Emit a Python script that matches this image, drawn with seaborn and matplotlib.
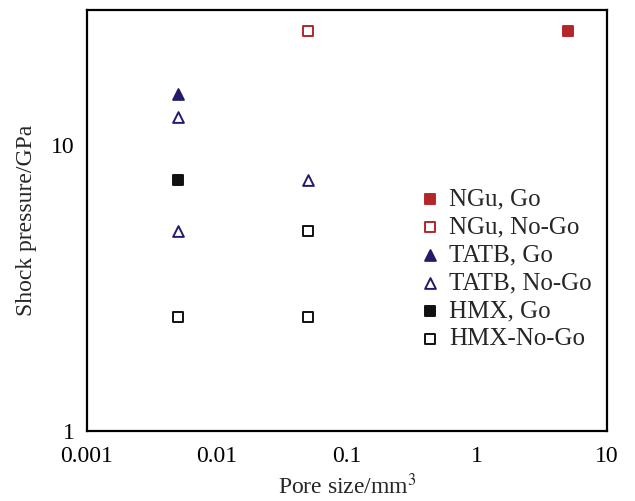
import matplotlib
matplotlib.use("Agg")
import matplotlib.pyplot as plt
import seaborn as sns
import pandas as pd
from matplotlib.ticker import FixedLocator, FixedFormatter, NullLocator

sns.set_style("white")
plt.rcParams["font.family"] = ["Liberation Serif", "DejaVu Serif"]
plt.rcParams["mathtext.fontset"] = "stix"

# Data: pore size (mm^3) vs shock pressure (GPa)
ngu_go_x = [5.0]
ngu_go_y = [25.0]
ngu_nogo_x = [0.05]
ngu_nogo_y = [25.0]
tatb_go_x = [0.005]
tatb_go_y = [15.0]
tatb_nogo_x = [0.005, 0.05, 0.005]
tatb_nogo_y = [12.5, 7.5, 5.0]
hmx_go_x = [0.005]
hmx_go_y = [7.5]
hmx_nogo_x = [0.05, 0.005, 0.05]
hmx_nogo_y = [5.0, 2.5, 2.5]

x_ticks = [0.001, 0.01, 0.1, 1, 10]
x_tick_labels = ["0.001", "0.01", "0.1", "1", "10"]
y_ticks = [1, 10]
y_tick_labels = ["1", "10"]

red = "#b5262b"
navy = "#221b6b"
black = "#111111"

series = [
    ("NGu, Go", ngu_go_x, ngu_go_y, "s", red, True),
    ("NGu, No-Go", ngu_nogo_x, ngu_nogo_y, "s", red, False),
    ("TATB, Go", tatb_go_x, tatb_go_y, "^", navy, True),
    ("TATB, No-Go", tatb_nogo_x, tatb_nogo_y, "^", navy, False),
    ("HMX, Go", hmx_go_x, hmx_go_y, "s", black, True),
    ("HMX-No-Go", hmx_nogo_x, hmx_nogo_y, "s", black, False),
]

fig = plt.figure(figsize=(6.35, 5.01), dpi=100)
ax = fig.add_axes([0.137, 0.140, 0.819, 0.840])

for label, xs, ys, marker, color, filled in series:
    df = pd.DataFrame({"x": xs, "y": ys})
    size = 60 if marker == "^" else 50
    sns.scatterplot(
        data=df, x="x", y="y", ax=ax, marker=marker, s=size,
        facecolor=color if filled else "white",
        edgecolor=color, linewidth=1.4, label=label, zorder=3,
    )

ax.set_xscale("log")
ax.set_yscale("log")
ax.set_xlim(0.001, 10)
ax.set_ylim(1, 29.5)

ax.xaxis.set_major_locator(FixedLocator(x_ticks))
ax.xaxis.set_major_formatter(FixedFormatter(x_tick_labels))
ax.xaxis.set_minor_locator(NullLocator())
ax.yaxis.set_major_locator(FixedLocator(y_ticks))
ax.yaxis.set_major_formatter(FixedFormatter(y_tick_labels))
ax.yaxis.set_minor_locator(NullLocator())

ax.tick_params(axis="both", which="major", direction="in", length=6,
               width=1.5, labelsize=17, colors="black")
ax.tick_params(axis="x", pad=11)
ax.tick_params(axis="y", pad=9)
for spine in ax.spines.values():
    spine.set_linewidth(1.6)
    spine.set_color("black")

ax.set_xlabel("Pore size/mm$^3$", fontsize=17, labelpad=5)
ax.set_ylabel("Shock pressure/GPa", fontsize=17, labelpad=10)

ax.legend(loc="center left", bbox_to_anchor=(0.605, 0.385), frameon=False,
          fontsize=18, handletextpad=0.3, labelspacing=0.22,
          handlelength=0.9, borderpad=0.2)

fig.savefig("out.png", dpi=100)
